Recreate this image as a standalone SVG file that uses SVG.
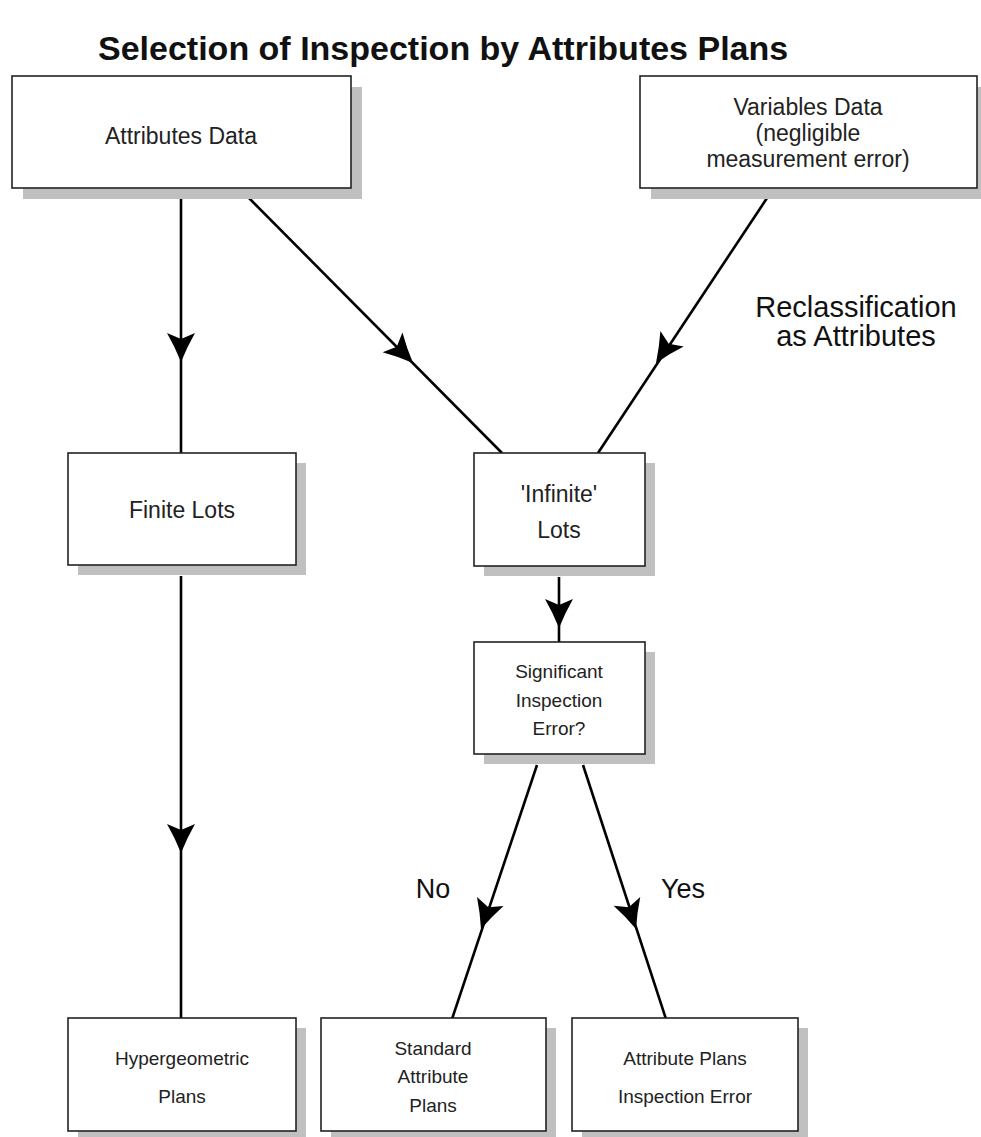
<svg xmlns="http://www.w3.org/2000/svg" xmlns:xlink="http://www.w3.org/1999/xlink" width="981" height="1137" viewBox="0 0 981 1137">
  <style>
    .box { fill: #ffffff; stroke: #222222; stroke-width: 1.6; }
    .shadow { fill: #c0c0c0; stroke: none; }
    .t { font-family: "Liberation Sans", Arial, sans-serif; fill: #222222; text-anchor: middle; }
    .big { font-size: 23px; }
    .small { font-size: 19px; }
    .lab { font-family: "Liberation Sans", Arial, sans-serif; fill: #111111; text-anchor: middle; }
    .title { font-family: "Liberation Sans", Arial, sans-serif; font-weight: bold; font-size: 34px; fill: #111111; }
    .conn line { stroke: #000000; stroke-width: 2.6; }
    .ah { fill: #000000; }
  </style>
  <defs>
    <path id="ah" d="M0,0 Q-15,-6 -29,-14 L-23,0 L-29,14 Q-15,6 0,0 Z"/>
  </defs>
  <rect width="981" height="1137" fill="#ffffff"/>

  <text class="title" x="98" y="60">Selection of Inspection by Attributes Plans</text>

  <g id="connectors" class="conn">
    <line x1="181" y1="199" x2="181" y2="453"/>
    <line x1="248" y1="197" x2="502" y2="453"/>
    <line x1="767" y1="198" x2="598" y2="453"/>
    <line x1="559" y1="577" x2="559" y2="643"/>
    <line x1="181" y1="576" x2="181" y2="1019"/>
    <line x1="537" y1="765" x2="452" y2="1019"/>
    <line x1="583" y1="765" x2="666" y2="1019"/>
    <use class="ah" href="#ah" transform="translate(181,362) rotate(90)"/>
    <use class="ah" href="#ah" transform="translate(413,363) rotate(45.1)"/>
    <use class="ah" href="#ah" transform="translate(656,363) rotate(123.6)"/>
    <use class="ah" href="#ah" transform="translate(559,628) rotate(90)"/>
    <use class="ah" href="#ah" transform="translate(181,853) rotate(90)"/>
    <use class="ah" href="#ah" transform="translate(481,929) rotate(108.6)"/>
    <use class="ah" href="#ah" transform="translate(636,929) rotate(71.8)"/>
  </g>

  <g id="attributes-data">
    <rect class="shadow" x="23" y="87" width="339" height="112"/>
    <rect class="box" x="12" y="76" width="339" height="112"/>
    <text class="t big" x="181" y="144">Attributes Data</text>
  </g>

  <g id="variables-data">
    <rect class="shadow" x="651" y="87" width="337" height="112"/>
    <rect class="box" x="640" y="76" width="337" height="112"/>
    <text class="t big" x="808" y="115">Variables Data</text>
    <text class="t big" x="808" y="141">(negligible</text>
    <text class="t big" x="808" y="167">measurement error)</text>
  </g>

  <g id="finite-lots">
    <rect class="shadow" x="78" y="463" width="228" height="112"/>
    <rect class="box" x="68" y="453" width="228" height="112"/>
    <text class="t big" x="182" y="518">Finite Lots</text>
  </g>

  <g id="infinite-lots">
    <rect class="shadow" x="484" y="463" width="171" height="113"/>
    <rect class="box" x="474" y="453" width="171" height="113"/>
    <text class="t big" x="559" y="502">'Infinite'</text>
    <text class="t big" x="559" y="538">Lots</text>
  </g>

  <g id="significant-error">
    <rect class="shadow" x="484" y="652" width="171" height="112"/>
    <rect class="box" x="474" y="642" width="171" height="112"/>
    <text class="t small" x="559" y="678">Significant</text>
    <text class="t small" x="559" y="707">Inspection</text>
    <text class="t small" x="559" y="735">Error?</text>
  </g>

  <g id="hypergeometric-plans">
    <rect class="shadow" x="78" y="1028" width="228" height="113"/>
    <rect class="box" x="68" y="1018" width="228" height="113"/>
    <text class="t small" x="182" y="1065">Hypergeometric</text>
    <text class="t small" x="182" y="1103">Plans</text>
  </g>

  <g id="standard-attribute-plans">
    <rect class="shadow" x="331" y="1028" width="225" height="113"/>
    <rect class="box" x="321" y="1018" width="225" height="113"/>
    <text class="t small" x="433" y="1055">Standard</text>
    <text class="t small" x="433" y="1083">Attribute</text>
    <text class="t small" x="433" y="1112">Plans</text>
  </g>

  <g id="attribute-plans-inspection-error">
    <rect class="shadow" x="582" y="1028" width="226" height="113"/>
    <rect class="box" x="572" y="1018" width="226" height="113"/>
    <text class="t small" x="685" y="1065">Attribute Plans</text>
    <text class="t small" x="685" y="1103">Inspection Error</text>
  </g>

  <g id="labels">
    <text class="lab" x="856" y="317" font-size="29">Reclassification</text>
    <text class="lab" x="856" y="346" font-size="29">as Attributes</text>
    <text class="lab" x="433" y="898" font-size="27">No</text>
    <text class="lab" x="683" y="898" font-size="27">Yes</text>
  </g>
</svg>
